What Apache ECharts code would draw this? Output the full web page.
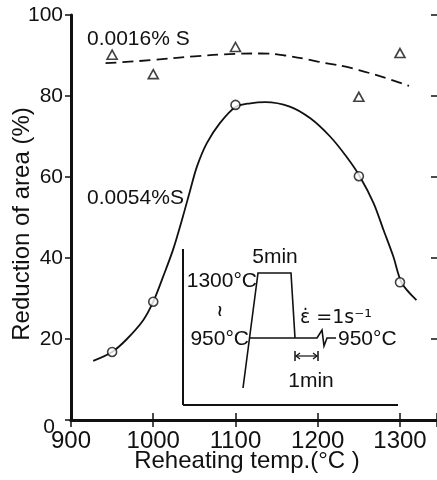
<!DOCTYPE html>
<html><head><meta charset="utf-8">
<script src="https://cdn.jsdelivr.net/npm/echarts@6/dist/echarts.min.js"></script>
<style>html,body{margin:0;padding:0;background:#fff}#c{width:437px;height:480px}</style>
</head><body><div id="c"></div>
<script>
// Measured points
var lowS_T = [950, 1000, 1100, 1250, 1300];
var lowS_V = [90.2, 85.4, 92.1, 79.8, 90.6];
var highS_T = [950, 1000, 1100, 1250, 1300];
var highS_V = [16.8, 29.2, 77.8, 60.2, 34.0];
// Fitted curves as drawn in the figure
var lowCurve_T = [942, 1000, 1050, 1100, 1130, 1160, 1200, 1250, 1311];
var lowCurve_V = [88.1, 88.9, 89.8, 90.4, 90.5, 90.0, 88.5, 86.4, 82.5];
var highCurve_T = [927, 950, 968, 988, 1000, 1012, 1024, 1036, 1045, 1053, 1065, 1081, 1100, 1118, 1136, 1166, 1191, 1215, 1235, 1251, 1268, 1280, 1292, 1302, 1320];
var highCurve_V = [14.6, 16.8, 20.0, 24.7, 29.2, 35.4, 42.0, 50.2, 56.8, 62.5, 68.3, 73.3, 77.3, 78.2, 78.5, 77.4, 74.5, 70.0, 65.0, 60.2, 53.5, 46.9, 40.3, 33.9, 29.6];
var xTicks = [900, 1000, 1100, 1200, 1300];
var yTicks = [0, 20, 40, 60, 80, 100];
var xTitle = 'Reheating temp.(°C )';
var yTitle = 'Reduction of area (%)';

function zip(a, b) { return a.map(function (v, i) { return [v, b[i]]; }); }

var chart = echarts.init(document.getElementById('c'));
var FF = '"Liberation Sans", Arial, sans-serif';
var black = '#111';
var axisCommon = { min: 900, max: 1345, interval: 100 };

chart.setOption({
  animation: false,
  backgroundColor: '#fff',
  grid: { left: 71, top: 15, right: 0, bottom: 60, containLabel: false, outerBoundsMode: 'none' },
  xAxis: [
    Object.assign({
      type: 'value', position: 'bottom',
      axisLine: { lineStyle: { color: black, width: 3 } },
      axisTick: { inside: true, length: 7, lineStyle: { color: black, width: 1.5 } },
      axisLabel: { fontFamily: FF, fontSize: 24, color: black, margin: 9,
        formatter: function (v) { return xTicks.indexOf(v) >= 0 ? String(v) : ''; } },
      splitLine: { show: false }
    }, axisCommon),
    Object.assign({
      type: 'value', position: 'top',
      axisLine: { lineStyle: { color: black, width: 3 } },
      axisTick: { inside: true, length: 7, lineStyle: { color: black, width: 1.5 } },
      axisLabel: { show: false },
      splitLine: { show: false }
    }, axisCommon)
  ],
  yAxis: [
    {
      type: 'value', position: 'left', min: 0, max: 100, interval: 20,
      axisLine: { lineStyle: { color: black, width: 3 } },
      axisTick: { inside: false, length: 6, lineStyle: { color: black, width: 1.5 } },
      axisLabel: { fontFamily: FF, fontSize: 21, color: black, margin: 8,
        formatter: function (v) { return v === 0 ? '{z|0}' : (yTicks.indexOf(v) >= 0 ? String(v) : ''); },
        rich: { z: { fontFamily: FF, fontSize: 21, color: black, padding: [14, 8, 0, 0] } } },
      splitLine: { show: false }
    },
    {
      type: 'value', position: 'right', min: 0, max: 100, interval: 20,
      axisLine: { show: false },
      axisTick: { inside: true, length: 6, lineStyle: { color: black, width: 1.5 } },
      axisLabel: { show: false },
      splitLine: { show: false }
    }
  ],
  series: [
    { type: 'line', name: '0.0016%S curve', data: zip(lowCurve_T, lowCurve_V), smooth: 0.5,
      symbol: 'none', lineStyle: { color: black, width: 1.8, type: [11, 6] }, z: 2 },
    { type: 'line', name: '0.0054%S curve', data: zip(highCurve_T, highCurve_V), smooth: 0.3,
      symbol: 'none', lineStyle: { color: black, width: 1.8 }, z: 2 },
    { type: 'scatter', name: '0.0016%S', data: zip(lowS_T, lowS_V), symbol: 'triangle', symbolSize: [10, 9],
      itemStyle: { color: '#fff', borderColor: black, borderWidth: 1.6 }, z: 3 },
    { type: 'scatter', name: '0.0054%S', data: zip(highS_T, highS_V), symbol: 'circle', symbolSize: 9,
      itemStyle: { color: '#fff', borderColor: black, borderWidth: 1.6 }, z: 3 }
  ],
  graphic: [
    { type: 'text', x: 247, y: 461, style: { text: xTitle, font: '24px ' + FF, fill: black, textAlign: 'center', textVerticalAlign: 'middle' } },
    { type: 'text', x: 22, y: 224, rotation: Math.PI / 2, style: { text: yTitle, font: '24px ' + FF, fill: black, textAlign: 'center', textVerticalAlign: 'middle' } },
    { type: 'text', left: 87, top: 29, style: { text: '0.0016% S', font: '21px ' + FF, fill: black } },
    { type: 'text', left: 87, top: 188, style: { text: '0.0054%S', font: '21px ' + FF, fill: black } },
    // inset schematic
    { type: 'line', shape: { x1: 183, y1: 249, x2: 183, y2: 405 }, style: { stroke: black, lineWidth: 2 } },
    { type: 'line', shape: { x1: 183, y1: 405, x2: 398, y2: 405 }, style: { stroke: black, lineWidth: 2 } },
    { type: 'polyline', shape: { points: [[243, 388], [258, 273], [291, 273], [295, 338]] }, style: { stroke: black, lineWidth: 1.6, fill: null } },
    { type: 'polyline', shape: { points: [[250, 338], [317, 338], [322, 330], [324, 346], [327, 338], [336, 338]] }, style: { stroke: black, lineWidth: 1.6, fill: null } },
    { type: 'line', shape: { x1: 296, y1: 356, x2: 317, y2: 356 }, style: { stroke: black, lineWidth: 1.2 } },
    { type: 'line', shape: { x1: 295, y1: 351, x2: 295, y2: 361 }, style: { stroke: black, lineWidth: 1.5 } },
    { type: 'line', shape: { x1: 318, y1: 351, x2: 318, y2: 361 }, style: { stroke: black, lineWidth: 1.5 } },
    { type: 'polyline', shape: { points: [[300, 353], [296, 356], [300, 359]] }, style: { stroke: black, lineWidth: 1.2, fill: null } },
    { type: 'polyline', shape: { points: [[313, 353], [317, 356], [313, 359]] }, style: { stroke: black, lineWidth: 1.2, fill: null } },
    { type: 'text', x: 275, y: 257, style: { text: '5min', font: '21px ' + FF, fill: black, textAlign: 'center', textVerticalAlign: 'middle' } },
    { type: 'text', x: 257, y: 281, style: { text: '1300°C', font: '21px ' + FF, fill: black, textAlign: 'right', textVerticalAlign: 'middle' } },
    { type: 'text', x: 220, y: 312, style: { text: '≀', font: 'bold 16px "DejaVu Sans"', fill: black, textAlign: 'center', textVerticalAlign: 'middle' } },
    { type: 'text', x: 249, y: 339, style: { text: '950°C', font: '21px ' + FF, fill: black, textAlign: 'right', textVerticalAlign: 'middle' } },
    { type: 'text', x: 338, y: 339, style: { text: '950°C', font: '21px ' + FF, fill: black, textAlign: 'left', textVerticalAlign: 'middle' } },
    { type: 'text', x: 300, y: 318, style: { text: 'ε̇ =1s⁻¹', font: '19px "DejaVu Sans"', fill: black, textAlign: 'left', textVerticalAlign: 'middle' } },
    { type: 'text', x: 311, y: 381, style: { text: '1min', font: '21px ' + FF, fill: black, textAlign: 'center', textVerticalAlign: 'middle' } }
  ]
});
</script></body></html>
